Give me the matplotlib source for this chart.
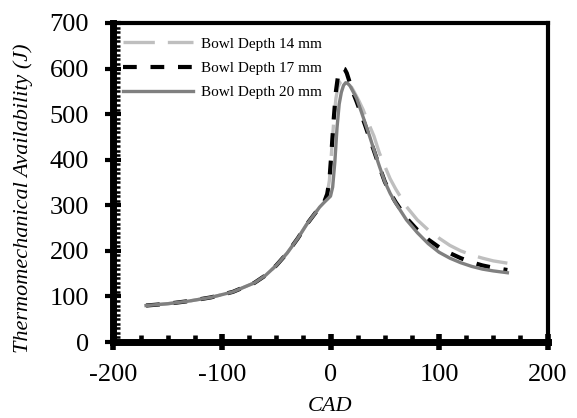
import matplotlib
matplotlib.use('Agg')
import matplotlib.pyplot as plt
from matplotlib.ticker import MultipleLocator

plt.rcParams['font.family'] = ['Liberation Serif', 'DejaVu Serif']
plt.rcParams['axes.unicode_minus'] = False

# ---- data ----
labels = ['Bowl Depth 14 mm', 'Bowl Depth 17 mm', 'Bowl Depth 20 mm']

cad_14 = [-170, -150, -130, -110, -90, -70, -60, -50, -40, -30, -22, -15, -10, -6, -3, -1, 1, 3, 5, 7, 9, 12, 15,
          18, 22, 26, 30, 35, 40, 45, 50, 55, 60, 70, 80, 90, 100, 110, 120, 130, 140, 150, 163]
ta_14 = [80, 84, 90, 98, 110, 130, 146, 168, 195, 228, 258, 280, 296, 306, 325, 355, 418, 485, 535, 560, 570, 574, 573,
         565, 548, 530, 510, 480, 452, 415, 386, 358, 336, 297, 268, 246, 228, 212, 200, 191, 184, 178, 173]

cad_17 = [-170, -150, -130, -110, -90, -70, -60, -50, -40, -30, -22, -15, -10, -6, -3, -1, 1, 3, 5, 7, 9, 11, 13, 15,
          17, 20, 24, 28, 32, 36, 40, 45, 50, 55, 60, 70, 80, 90, 100, 110, 120, 130, 140, 150, 163]
ta_17 = [80, 84, 90, 98, 110, 130, 146, 168, 195, 228, 258, 280, 296, 306, 325, 355, 420, 490, 550, 585, 597, 601, 599, 590,
         575, 552, 528, 502, 475, 447, 420, 385, 352, 327, 307, 272, 246, 225, 208, 195, 184, 175, 168, 163, 158]

cad_20 = [-170, -150, -130, -110, -90, -70, -60, -50, -40, -30, -22, -15, -10, -6, -3, 0, 2, 4, 6, 8, 10, 12, 14, 16,
          18, 20, 24, 28, 32, 36, 40, 45, 50, 55, 60, 70, 80, 90, 100, 110, 120, 130, 140, 150, 163]
ta_20 = [80, 84, 90, 98, 110, 130, 146, 168, 195, 228, 258, 280, 296, 306, 313, 320, 340, 395, 470, 522, 548, 563, 569, 567,
         562, 553, 535, 508, 480, 452, 422, 386, 352, 326, 305, 268, 240, 216, 197, 184, 174, 166, 160, 156, 152]

x_ticks = [-200, -100, 0, 100, 200]
y_ticks = [0, 100, 200, 300, 400, 500, 600, 700]

# ---- figure ----
fig = plt.figure(figsize=(5.77, 4.18), dpi=100)
ax = fig.add_axes([0.1967, 0.1818, 0.7522, 0.7632])

ax.plot(cad_14, ta_14, color='#bfbfbf', lw=2.4, dashes=(9.4, 3.9), label=labels[0], zorder=3)
ax.plot(cad_17, ta_17, color='black', lw=3.0, dashes=(3.3, 3.3), label=labels[1], zorder=4)
ax.plot(cad_20, ta_20, color='#808080', lw=2.4, label=labels[2], zorder=5)

ax.set_xlim(-200, 200)
ax.set_ylim(0, 700)
ax.set_xticks(x_ticks)
ax.set_yticks(y_ticks)
ax.xaxis.set_minor_locator(MultipleLocator(25))
ax.yaxis.set_minor_locator(MultipleLocator(10))

for s in ['left', 'bottom']:
    ax.spines[s].set_linewidth(5)
for s in ['top', 'right']:
    ax.spines[s].set_linewidth(3)

ax.tick_params(axis='x', which='major', direction='inout', length=12, width=4, labelsize=19, pad=10)
ax.tick_params(axis='y', which='major', direction='inout', length=11, width=3, labelsize=19, pad=12)
ax.tick_params(axis='x', which='minor', direction='in', length=5, width=3.3)
ax.tick_params(axis='y', which='minor', direction='in', length=4.7, width=1.8)
ax.tick_params(top=False, right=False, which='both')

ax.set_xlabel('CAD', fontsize=16, style='italic')
ax.set_ylabel('Thermomechanical Availability (J)', fontsize=16, style='italic')
ax.xaxis.set_label_coords(0.5, -0.172)
ax.yaxis.set_label_coords(-0.185, 0.45)

leg = ax.legend(loc='upper left', bbox_to_anchor=(0.022, 0.956), frameon=False, fontsize=11,
                handlelength=4.58, handletextpad=0.52, labelspacing=0.7, borderpad=0, borderaxespad=0)

fig.savefig('out.png', dpi=100)
